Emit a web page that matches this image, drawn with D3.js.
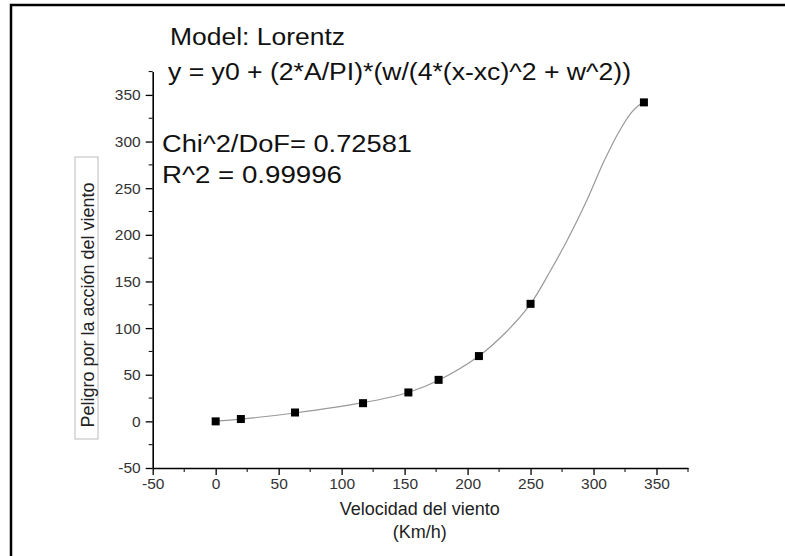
<!DOCTYPE html>
<html>
<head>
<meta charset="utf-8">
<script src="https://cdn.jsdelivr.net/npm/d3@7"></script>
<style>
  body { margin: 0; background: #fff; }
  text { font-family: "Liberation Sans", Arial, sans-serif; }
</style>
</head>
<body>
<div id="container"></div>
<script>
/* CONSTANTS AND GLOBALS */
const width = 785, height = 556;
const margin = { top: 71.6, right: 97, bottom: 88, left: 152.7 };

// measured points (velocidad, peligro)
const speeds = [0, 20, 63, 117, 153, 177, 209, 250, 340];
const danger = [0, 2.5, 9.5, 19.5, 31, 44.5, 70, 126, 342];

// fitted Lorentz curve
const fitX = [0, 20, 63, 117, 153, 177, 209, 230, 250, 266, 279, 295, 308, 320, 330, 336, 340];
const fitY = [0.5, 2.5, 9, 20, 31, 44, 70, 95, 126, 162, 194, 238, 278, 310, 331, 339, 342];

const xTicks = [-50, 0, 50, 100, 150, 200, 250, 300, 350];
const yTicks = [-50, 0, 50, 100, 150, 200, 250, 300, 350];
const minorTicks = [-25, 25, 75, 125, 175, 225, 275, 325, 375];

const infoLines = [
  "Model: Lorentz",
  "y = y0 + (2*A/PI)*(w/(4*(x-xc)^2 + w^2))",
  "Chi^2/DoF= 0.72581",
  "R^2 = 0.99996"
];

const svg = d3.select("#container")
  .append("svg")
  .attr("width", width)
  .attr("height", height);

// frame (left + top only visible)
svg.append("path")
  .attr("d", `M11,${height} V5 H${width}`)
  .attr("fill", "none")
  .attr("stroke", "#000")
  .attr("stroke-width", 2.5);

const g = svg.append("g")
  .attr("transform", `translate(${margin.left},${margin.top})`);

const innerW = width - margin.left - margin.right;
const innerH = height - margin.top - margin.bottom;

const xScale = d3.scaleLinear().domain([-50, 375]).range([0, innerW]);
const yScale = d3.scaleLinear().domain([-50, 375]).range([innerH, 0]);

// Axes (plain hyphen for negatives, like the original)
const fmt = d => String(d);
const xAxis = g.append("g")
  .attr("transform", `translate(0,${innerH})`)
  .call(d3.axisBottom(xScale).tickValues(xTicks).tickFormat(fmt).tickSize(7).tickSizeOuter(0).tickPadding(3));
xAxis.append("g").selectAll("line").data(minorTicks).join("line")
  .attr("x1", d => xScale(d)).attr("x2", d => xScale(d))
  .attr("y1", 0).attr("y2", 4).attr("stroke", "#000");

const yAxis = g.append("g")
  .call(d3.axisLeft(yScale).tickValues(yTicks).tickFormat(fmt).tickSize(7).tickSizeOuter(0).tickPadding(5));
yAxis.append("g").selectAll("line").data(minorTicks).join("line")
  .attr("y1", d => yScale(d)).attr("y2", d => yScale(d))
  .attr("x1", 0).attr("x2", -4).attr("stroke", "#000");

g.selectAll(".domain").attr("stroke", "#000").attr("stroke-width", 1.6);
g.selectAll(".tick line").attr("stroke", "#000").attr("stroke-width", 1.3);
g.selectAll(".tick text")
  .attr("font-family", "'Liberation Sans', Arial, sans-serif")
  .attr("font-size", 15.5)
  .attr("fill", "#333");

// Fit curve
const fitData = fitX.map((x, i) => ({ x, y: fitY[i] }));
g.append("path")
  .datum(fitData)
  .attr("fill", "none")
  .attr("stroke", "#999")
  .attr("stroke-width", 1.2)
  .attr("d", d3.line().x(d => xScale(d.x)).y(d => yScale(d.y)).curve(d3.curveCatmullRom.alpha(0.5)));

// Points
const pts = speeds.map((x, i) => ({ x, y: danger[i] }));
const s = 8;
g.selectAll(".pt")
  .data(pts)
  .join("rect")
  .attr("class", "pt")
  .attr("x", d => xScale(d.x) - s / 2)
  .attr("y", d => yScale(d.y) - s / 2)
  .attr("width", s)
  .attr("height", s)
  .attr("fill", "#000");

// Annotation text
const infoPos = [[170, 45, 175], [168, 80, 463], [162, 152, 250], [162, 183, 180]];
svg.selectAll(".info")
  .data(infoLines)
  .join("text")
  .attr("class", "info")
  .attr("x", (d, i) => infoPos[i][0])
  .attr("y", (d, i) => infoPos[i][1])
  .attr("textLength", (d, i) => infoPos[i][2])
  .attr("lengthAdjust", "spacingAndGlyphs")
  .attr("font-size", 23)
  .attr("fill", "#111")
  .text(d => d);

// X axis title
const xTitleX = margin.left + xScale(162);
svg.append("text")
  .attr("x", xTitleX)
  .attr("y", 515)
  .attr("text-anchor", "middle")
  .attr("font-size", 18)
  .attr("fill", "#222")
  .text("Velocidad del viento");
svg.append("text")
  .attr("x", xTitleX)
  .attr("y", 538)
  .attr("text-anchor", "middle")
  .attr("font-size", 18)
  .attr("fill", "#222")
  .text("(Km/h)");

// Y axis title in a thin box
const yt = svg.append("g").attr("transform", "translate(94,290) rotate(-90)");
yt.append("rect")
  .attr("x", -149).attr("y", -19)
  .attr("width", 282).attr("height", 23)
  .attr("fill", "#fff")
  .attr("stroke", "#bbb")
  .attr("stroke-width", 1);
yt.append("text")
  .attr("x", -15)
  .attr("y", 0)
  .attr("text-anchor", "middle")
  .attr("font-size", 18)
  .attr("fill", "#222")
  .text("Peligro por la acción del viento");
</script>
</body>
</html>
